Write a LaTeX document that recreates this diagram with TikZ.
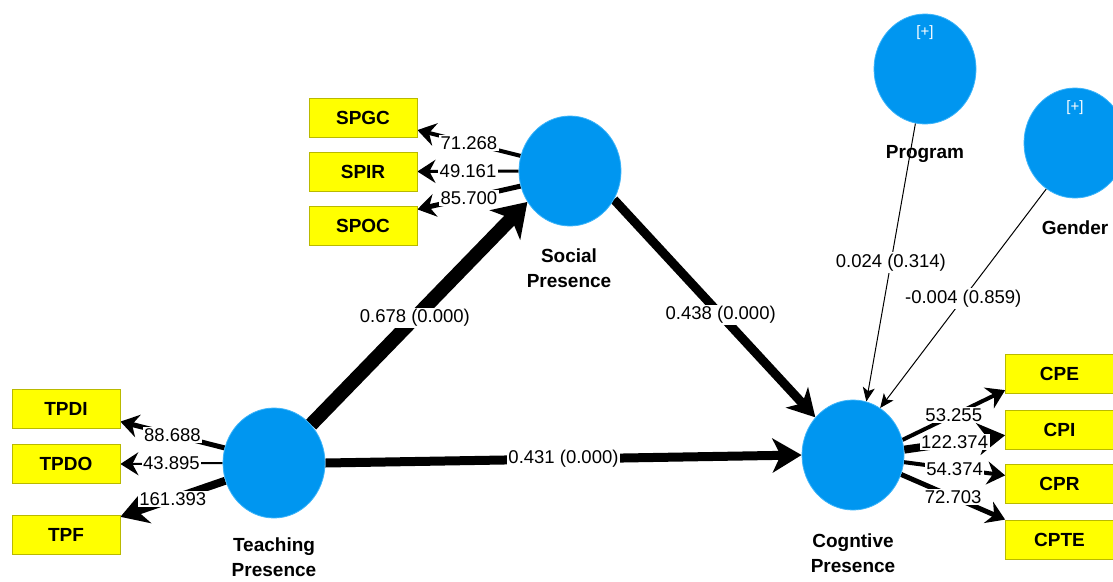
\documentclass[tikz,border=0pt]{standalone}
\usepackage{fontspec}
\setmainfont{Liberation Sans}
\usetikzlibrary{arrows.meta,shapes.geometric}
\definecolor{lvblue}{RGB}{0,150,240}
\definecolor{lvedge}{RGB}{60,180,250}
\definecolor{boxyellow}{RGB}{255,255,0}
\definecolor{boxedge}{RGB}{185,185,0}
\pgfdeclarelayer{bg}
\pgfsetlayers{bg,main}
\begin{document}
\begin{tikzpicture}[x=1pt,y=-1pt,
 latent/.style={ellipse, fill=lvblue, draw=lvedge, line width=0.8pt, minimum width=102pt, minimum height=110pt, inner sep=0pt},
 ind/.style={rectangle, fill=boxyellow, draw=boxedge, line width=0.8pt, minimum width=108pt, minimum height=39pt, inner sep=0pt, font=\fontsize{19}{21}\selectfont\bfseries},
 lvlabel/.style={align=center, font=\fontsize{19}{25}\selectfont\bfseries},
 plus/.style={text=white, font=\fontsize{15}{16}\selectfont},
 num/.style={fill=white, inner sep=1.5pt, font=\fontsize{18.5}{21}\selectfont},
 loadarr/.style={draw, line width=#1, -{Stealth[length=18pt,width=23pt,inset=6pt]}},
 bigload/.style={draw, line width=#1, -{Stealth[length=27pt,width=32pt,inset=9pt]}},
 thinpath/.style={draw, line width=1pt, -{Stealth[length=14pt,width=12pt,inset=3.5pt]}}
]
\useasboundingbox (0,0) rectangle (1113,581);

% latent variables
\node[latent] (tp) at (274,463) {};
\node[latent] (sp) at (570,171) {};
\node[latent] (cp) at (853,455) {};
\node[latent] (prog) at (925,69) {};
\node[latent] (gen) at (1075,143) {};
\node[plus] (progplus) at (925,33) {[+]};
\node[plus] (genplus) at (1075,108) {[+]};

% latent labels
\node[lvlabel] (tplab) at (274,557) {Teaching\\Presence};
\node[lvlabel] (splab) at (569,268) {Social\\Presence};
\node[lvlabel] (cplab) at (853,553) {Cogntive\\Presence};
\node[lvlabel] (proglab) at (925,154) {Program};
\node[lvlabel] (genlab) at (1075,228) {Gender};

% indicators
\node[ind] (spgc) at (363,117.5) {SPGC};
\node[ind] (spir) at (363,171.5) {SPIR};
\node[ind] (spoc) at (363,226) {SPOC};
\node[ind] (tpdi) at (66,409) {TPDI};
\node[ind] (tpdo) at (66,464) {TPDO};
\node[ind] (tpf) at (66,534.5) {TPF};
\node[ind] (cpe) at (1059.5,373.5) {CPE};
\node[ind] (cpi) at (1059.5,429.5) {CPI};
\node[ind] (cpr) at (1059.5,484) {CPR};
\node[ind] (cpte) at (1059.5,539.5) {CPTE};

\begin{pgfonlayer}{bg}
% outer loadings
\draw[loadarr=4pt] (sp.163) -- node[num]{71.268} (spgc.-13);
\draw[loadarr=3pt] (sp.180) -- node[num]{49.161} (spir.east);
\draw[loadarr=5pt] (sp.-163) -- node[num]{85.700} (spoc.17);
\draw[loadarr=5pt] (tp.163) -- node[num]{88.688} (tpdi.-13);
\draw[loadarr=2pt] (tp.180) -- node[num]{43.895} (tpdo.east);
\draw[bigload=8pt] (tp.-160) -- node[num]{161.393} (tpf.18);
\draw[loadarr=4pt] (cp.17) -- node[num]{53.255} (cpe.-163);
\draw[bigload=8pt] (cp.6) -- node[num]{122.374} (cpi.186);
\draw[loadarr=4pt] (cp.-8) -- node[num]{54.374} (cpr.171);
\draw[loadarr=5pt] (cp.-22) -- node[num]{72.703} (cpte.north west);

% structural paths
\draw[line width=14pt, -{Stealth[length=32pt,width=42pt,inset=9pt]}] (tp.46) -- node[num,pos=0.48]{0.678 (0.000)} (sp.-144);
\draw[line width=9pt, -{Stealth[length=27pt,width=30pt,inset=8pt]}] (sp.-33) -- node[num,pos=0.53]{0.438 (0.000)} (cp.135);
\draw[line width=9pt, -{Stealth[length=29pt,width=34pt,inset=8pt]}] (tp.east) -- node[num]{0.431 (0.000)} (cp.west);
\draw[thinpath] (prog.-100) -- node[num]{0.024 (0.314)} (cp.76);
\draw[thinpath] (gen.238) -- node[num]{-0.004 (0.859)} (cp.60);
\end{pgfonlayer}
\end{tikzpicture}
\end{document}
